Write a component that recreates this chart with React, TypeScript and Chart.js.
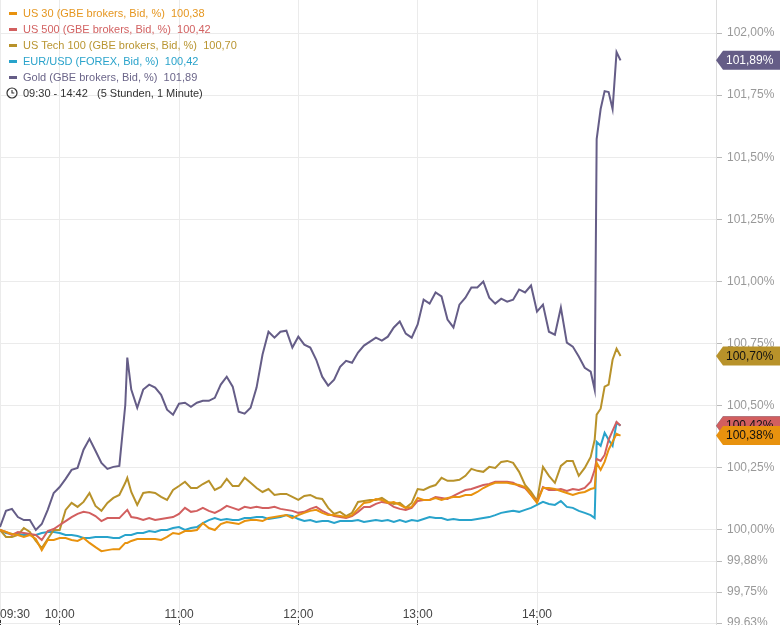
import React, { useEffect, useRef } from 'react';
import { Chart, registerables } from 'chart.js';

Chart.register(...registerables);

// minutes after 09:30
const times = [
  0, 3, 6, 9, 12, 15, 18, 21, 24, 27,
  30, 33, 36, 39, 42, 45, 48, 51, 54, 57,
  60, 63, 64, 66, 69, 72, 75, 78, 81, 84,
  87, 90, 93, 96, 99, 102, 105, 108, 111, 114,
  117, 120, 123, 126, 129, 132, 135, 138, 141, 144,
  147, 150, 153, 156, 159, 162, 165, 168, 171, 174,
  177, 180, 183, 186, 189, 192, 195, 198, 201, 204,
  207, 210, 213, 216, 219, 222, 225, 228, 231, 234,
  237, 240, 243, 246, 249, 252, 255, 258, 261, 264,
  267, 270, 273, 276, 279, 282, 285, 288, 291, 294,
  297, 299, 300, 302, 304, 306, 308, 310, 312,
];

const us30 = [
  100.0, 99.992, 99.984, 99.98, 99.972, 99.98, 99.964, 99.919, 99.96, 99.96,
  99.968, 99.968, 99.96, 99.956, 99.968, 99.948, 99.931, 99.915, 99.919, 99.923,
  99.923, 99.948, 99.948, 99.956, 99.964, 99.964, 99.964, 99.964, 99.96, 99.972,
  99.988, 99.984, 99.996, 99.996, 100.0, 100.028, 100.008, 100.0, 100.024, 100.032,
  100.028, 100.024, 100.036, 100.04, 100.04, 100.036, 100.048, 100.052, 100.056, 100.06,
  100.048, 100.06, 100.069, 100.077, 100.081, 100.069, 100.06, 100.06, 100.056, 100.052,
  100.06, 100.085, 100.109, 100.113, 100.125, 100.121, 100.109, 100.113, 100.101, 100.089,
  100.093, 100.129, 100.121, 100.121, 100.129, 100.121, 100.129, 100.133, 100.133, 100.141,
  100.141, 100.153, 100.169, 100.181, 100.19, 100.19, 100.19, 100.185, 100.181, 100.173,
  100.141, 100.109, 100.169, 100.169, 100.165, 100.157, 100.149, 100.141, 100.149, 100.153,
  100.165, 100.169, 100.27, 100.242, 100.274, 100.323, 100.355, 100.387, 100.38,
];

const us500 = [
  100.0, 99.992, 99.98, 99.992, 99.988, 99.984, 99.98, 99.96, 99.996, 100.004,
  100.02, 100.036, 100.052, 100.065, 100.073, 100.069, 100.056, 100.036, 100.048, 100.048,
  100.048, 100.073, 100.081, 100.052, 100.048, 100.04, 100.048, 100.04, 100.044, 100.048,
  100.052, 100.065, 100.089, 100.073, 100.077, 100.089, 100.077, 100.069, 100.081, 100.097,
  100.089, 100.081, 100.093, 100.089, 100.093, 100.089, 100.089, 100.093, 100.085, 100.081,
  100.077, 100.069, 100.073, 100.085, 100.093, 100.077, 100.065, 100.056, 100.052, 100.048,
  100.056, 100.073, 100.093, 100.093, 100.105, 100.113, 100.109, 100.093, 100.085, 100.081,
  100.089, 100.117, 100.121, 100.121, 100.133, 100.129, 100.125, 100.137, 100.149, 100.161,
  100.165, 100.173, 100.181, 100.185, 100.194, 100.194, 100.194, 100.19, 100.177, 100.169,
  100.141, 100.113, 100.173, 100.161, 100.161, 100.165, 100.157, 100.165, 100.161, 100.169,
  100.194, 100.242, 100.286, 100.278, 100.302, 100.363, 100.399, 100.435, 100.42,
];

const usTech100 = [
  100.0, 99.972, 99.972, 99.98, 100.008, 99.992, 99.956, 99.927, 99.964, 100.0,
  100.0, 100.081, 100.109, 100.093, 100.113, 100.149, 100.097, 100.077, 100.109, 100.129,
  100.141, 100.19, 100.21, 100.153, 100.101, 100.149, 100.153, 100.149, 100.133, 100.121,
  100.161, 100.177, 100.194, 100.169, 100.169, 100.185, 100.198, 100.161, 100.173, 100.206,
  100.177, 100.177, 100.21, 100.19, 100.169, 100.153, 100.165, 100.141, 100.145, 100.145,
  100.133, 100.121, 100.137, 100.141, 100.129, 100.125, 100.089, 100.065, 100.073, 100.056,
  100.069, 100.113, 100.117, 100.121, 100.121, 100.129, 100.113, 100.105, 100.109, 100.089,
  100.109, 100.165, 100.161, 100.173, 100.181, 100.21, 100.198, 100.198, 100.202, 100.218,
  100.246, 100.238, 100.234, 100.254, 100.25, 100.274, 100.278, 100.27, 100.234, 100.181,
  100.153, 100.117, 100.254, 100.218, 100.19, 100.258, 100.278, 100.278, 100.218, 100.25,
  100.294, 100.363, 100.464, 100.488, 100.577, 100.585, 100.685, 100.73, 100.7,
];

const eurUsd = [
  100.0, 99.988, 99.984, 99.984, 99.98, 99.98, 99.98, 99.988, 99.992, 99.992,
  99.988, 99.98, 99.98, 99.976, 99.968, 99.968, 99.972, 99.972, 99.972, 99.968,
  99.968, 99.98, 99.98, 99.98, 99.988, 99.988, 99.996, 99.992, 100.0, 100.0,
  100.008, 100.012, 100.0, 100.008, 100.012, 100.028, 100.04, 100.048, 100.04, 100.044,
  100.04, 100.04, 100.048, 100.048, 100.052, 100.052, 100.044, 100.048, 100.052, 100.06,
  100.056, 100.044, 100.036, 100.04, 100.032, 100.036, 100.036, 100.028, 100.036, 100.036,
  100.036, 100.04, 100.032, 100.036, 100.04, 100.036, 100.04, 100.032, 100.04, 100.032,
  100.04, 100.036, 100.044, 100.052, 100.048, 100.048, 100.04, 100.044, 100.04, 100.04,
  100.04, 100.044, 100.048, 100.052, 100.06, 100.069, 100.073, 100.077, 100.073, 100.081,
  100.089, 100.101, 100.113, 100.105, 100.101, 100.117, 100.093, 100.089, 100.077, 100.069,
  100.06, 100.048, 100.355, 100.339, 100.391, 100.363, 100.339, 100.431, 100.42,
];

const gold = [
  100.012, 100.077, 100.085, 100.052, 100.04, 100.04, 100.0, 100.024, 100.081, 100.149,
  100.173, 100.206, 100.242, 100.25, 100.323, 100.367, 100.319, 100.27, 100.246, 100.254,
  100.258, 100.504, 100.694, 100.565, 100.492, 100.565, 100.585, 100.573, 100.544, 100.484,
  100.464, 100.508, 100.512, 100.496, 100.512, 100.52, 100.52, 100.532, 100.585, 100.617,
  100.577, 100.476, 100.468, 100.492, 100.573, 100.706, 100.798, 100.774, 100.798, 100.802,
  100.734, 100.778, 100.746, 100.734, 100.685, 100.617, 100.581, 100.605, 100.657, 100.681,
  100.673, 100.714, 100.742, 100.758, 100.774, 100.762, 100.778, 100.815, 100.839, 100.79,
  100.774, 100.827, 100.927, 100.911, 100.956, 100.94, 100.847, 100.815, 100.907, 100.935,
  100.976, 100.976, 101.0, 100.935, 100.911, 100.931, 100.919, 100.927, 100.968, 100.956,
  100.984, 100.879, 100.907, 100.798, 100.786, 100.895, 100.754, 100.738, 100.698, 100.653,
  100.637, 100.565, 101.573, 101.694, 101.766, 101.762, 101.694, 101.923, 101.89,
];

const yTicks = [99.625, 99.75, 99.875, 100, 100.25, 100.5, 100.75, 101, 101.25, 101.5, 101.75, 102];
const xTicks = [0, 30, 90, 150, 210, 270, 360];

const series = [
  { label: 'US 30 (GBE brokers, Bid, %)', values: us30, color: '#e8920e', legend: '#e5961f', tagText: '#111' },
  { label: 'US 500 (GBE brokers, Bid, %)', values: us500, color: '#d25f5f', legend: '#d26262', tagText: '#111' },
  { label: 'US Tech 100 (GBE brokers, Bid, %)', values: usTech100, color: '#b8922a', legend: '#b99531', tagText: '#111' },
  { label: 'EUR/USD (FOREX, Bid, %)', values: eurUsd, color: '#28a3cb', legend: '#2aa3cb', tagText: '#fff' },
  { label: 'Gold (GBE brokers, Bid, %)', values: gold, color: '#655d87', legend: '#6b6589', tagText: '#fff' },
];

// order in which the value tags on the right are painted (last on top)
const tagOrder = [4, 2, 3, 1, 0];

const FONT = "'Liberation Sans', Arial, sans-serif";

const fmt = (v: number) => v.toFixed(2).replace('.', ',');

const timeLabel = (m: number) => {
  const t = 9 * 60 + 30 + m;
  const h = Math.floor(t / 60);
  const mm = t % 60;
  return String(h).padStart(2, '0') + ':' + String(mm).padStart(2, '0');
};

const tagPlugin = {
  id: 'lastValueTags',
  afterDraw(chart: any) {
    const { ctx, chartArea, scales } = chart;
    const x0 = chartArea.right;
    ctx.save();
    ctx.font = '12px ' + FONT;
    ctx.textBaseline = 'middle';
    ctx.textAlign = 'left';
    tagOrder.forEach((i) => {
      const s = series[i];
      const last = s.values[s.values.length - 1];
      const py = scales.y.getPixelForValue(last);
      ctx.fillStyle = s.color;
      ctx.beginPath();
      ctx.moveTo(x0, py);
      ctx.lineTo(x0 + 7, py - 9.5);
      ctx.lineTo(chart.width, py - 9.5);
      ctx.lineTo(chart.width, py + 9.5);
      ctx.lineTo(x0 + 7, py + 9.5);
      ctx.closePath();
      ctx.fill();
      ctx.fillStyle = s.tagText;
      ctx.fillText(fmt(last) + '%', x0 + 10, py + 0.5);
    });
    ctx.restore();
  },
};

const ClockIcon = () => (
  <svg width="12" height="12" viewBox="0 0 12 12" style={{ marginLeft: 6, marginRight: 5 }}>
    <circle cx="6" cy="6" r="5" fill="none" stroke="#333" strokeWidth="1.2" />
    <path d="M6 3 V6 H8.3" fill="none" stroke="#333" strokeWidth="1.1" />
  </svg>
);

const App: React.FC = () => {
  const canvasRef = useRef<HTMLCanvasElement>(null);
  const chartRef = useRef<Chart | null>(null);

  useEffect(() => {
    document.body.style.margin = '0';
    document.body.style.overflow = 'hidden';
    if (!canvasRef.current) return;
    if (chartRef.current) chartRef.current.destroy();

    Chart.defaults.font.family = FONT;

    chartRef.current = new Chart(canvasRef.current, {
      type: 'line',
      data: {
        datasets: series.map((s) => ({
          label: s.label,
          data: s.values.map((v, i) => ({ x: times[i], y: v })),
          borderColor: s.color,
          borderWidth: 2,
          pointRadius: 0,
          tension: 0,
          fill: false,
        })),
      },
      options: {
        animation: false,
        responsive: true,
        maintainAspectRatio: false,
        layout: { padding: 0 },
        plugins: {
          legend: { display: false },
          tooltip: { enabled: false },
        },
        scales: {
          x: {
            type: 'linear',
            min: 0,
            max: 360,
            afterBuildTicks: (scale: any) => {
              scale.ticks = xTicks.map((v) => ({ value: v }));
            },
            afterFit: (scale: any) => {
              scale.height = 0;
              scale.paddingLeft = 0;
              scale.paddingRight = 0;
            },
            grid: {
              color: '#ebebeb',
              drawTicks: true,
              tickLength: -5,
              tickColor: '#333',
              tickWidth: 1,
            },
            border: { display: false },
            ticks: {
              mirror: true,
              padding: 3,
              align: 'inner',
              maxRotation: 0,
              autoSkip: false,
              color: '#444',
              font: { size: 12 },
              callback: (v: any) => (v === 360 ? '' : timeLabel(Number(v))),
            },
          },
          y: {
            type: 'linear',
            position: 'right',
            min: 99.6177,
            max: 102.1328,
            afterBuildTicks: (scale: any) => {
              scale.ticks = yTicks.map((v) => ({ value: v }));
            },
            afterFit: (scale: any) => {
              scale.width = 64;
              scale.paddingTop = 0;
              scale.paddingBottom = 0;
            },
            grid: {
              color: '#ebebeb',
              drawTicks: true,
              tickLength: 6,
              tickColor: '#bbb',
            },
            border: { display: true, color: '#dcdcdc' },
            ticks: {
              padding: 5,
              color: '#999',
              font: { size: 12 },
              autoSkip: false,
              callback: (v: any) => fmt(Number(v)) + '%',
            },
          },
        },
      },
      plugins: [tagPlugin],
    } as any);

    return () => {
      if (chartRef.current) {
        chartRef.current.destroy();
        chartRef.current = null;
      }
    };
  }, []);

  return (
    <div style={{ position: 'relative', width: 780, height: 625, fontFamily: FONT, background: '#fff' }}>
      <canvas ref={canvasRef}></canvas>
      <div style={{ position: 'absolute', left: 0, top: 5, fontSize: 11, lineHeight: '16px', whiteSpace: 'pre' }}>
        {series.map((s) => (
          <div key={s.label} style={{ display: 'flex', alignItems: 'center', height: 16, color: s.legend }}>
            <span style={{ display: 'inline-block', width: 8, height: 3, background: s.color, marginLeft: 9, marginRight: 6 }}></span>
            <span>{s.label + '  ' + fmt(s.values[s.values.length - 1])}</span>
          </div>
        ))}
        <div style={{ display: 'flex', alignItems: 'center', height: 16, color: '#333' }}>
          <ClockIcon />
          <span>{'09:30 - 14:42   (5 Stunden, 1 Minute)'}</span>
        </div>
      </div>
    </div>
  );
};

export default App;
